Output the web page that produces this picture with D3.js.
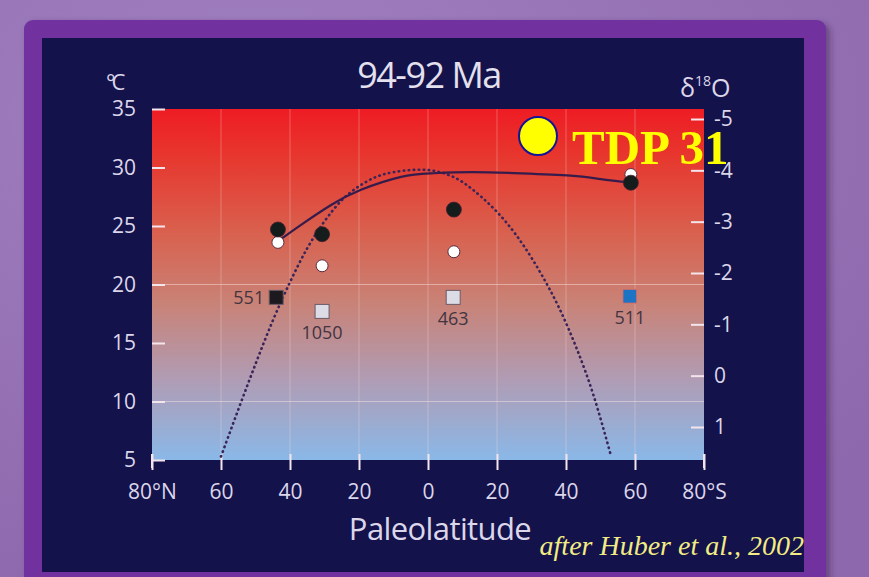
<!DOCTYPE html>
<html>
<head>
<meta charset="utf-8">
<script src="https://cdn.jsdelivr.net/npm/d3@7"></script>
<style>
  html, body { margin: 0; padding: 0; background: #9672b4; }
  svg { display: block; }
</style>
</head>
<body>
<svg id="chart" width="869" height="577"></svg>
<script>
// Paleolatitude: negative = north, positive = south
const latTicks = [-80, -60, -40, -20, 0, 20, 40, 60, 80];
const latTickLabels = ["80°N", "60", "40", "20", "0", "20", "40", "60", "80°S"];
const tempTicks = [5, 10, 15, 20, 25, 30, 35];
const d18OTicks = [-5, -4, -3, -2, -1, 0, 1];
const d18OTickLabels = ["-5", "-4", "-3", "-2", "-1", "0", "1"];

// Site paleolatitudes and temperatures
const siteLat = [-43.5, -30.7, 7.5, 58.8];
const tempBlack = [24.7, 24.3, 26.4, 28.7];
const tempWhite = [23.6, 21.6, 22.8, 29.4];

// DSDP/ODP sites (squares)
const siteNames = ["551", "1050", "463", "511"];
const squareLat = [-44, -30.7, 7.3, 58.5];
const squareTemp = [18.9, 17.7, 18.9, 19.0];
const squareFill = ["#1c1a1e", "#dcdce6", "#dcdce6", "#1d74c4"];

// Cretaceous gradient (solid curve)
const solidLat = [-43.5, -36.8, -28.1, -19.4, -7.8, 0.9, 12.5, 27, 41.4, 50.1, 58.8];
const solidTemp = [23.7, 25.1, 26.8, 28.1, 29.2, 29.5, 29.6, 29.5, 29.3, 29.0, 28.7];

// Modern gradient (dotted curve)
const dotLat = [-60, -55, -50, -45, -40, -35, -30, -25, -20, -15, -10, -4, 2, 8, 13, 18, 23, 28, 33, 38, 43, 48, 53];
const dotTemp = [5.3, 9.3, 13.2, 16.9, 20.2, 23.1, 25.4, 27.2, 28.4, 29.2, 29.6, 29.8, 29.7, 29.1, 28.1, 26.8, 25.2, 23.2, 20.8, 18.0, 14.6, 10.5, 5.4];

const svg = d3.select("#chart");
const W = 869, H = 577;

const defs = svg.append("defs");

// page background
const bg = defs.append("radialGradient").attr("id", "bg").attr("cx", "30%").attr("cy", "20%").attr("r", "90%");
bg.append("stop").attr("offset", "0%").attr("stop-color", "#a080c0");
bg.append("stop").attr("offset", "100%").attr("stop-color", "#8e68ac");

// plot fill: warm at the top, cool at the bottom
const grad = defs.append("linearGradient").attr("id", "heat").attr("x1", 0).attr("y1", 0).attr("x2", 0).attr("y2", 1);
[["0%", "#ee1c24"], ["12%", "#e8342c"], ["35%", "#d9604e"], ["55%", "#c98276"], ["77%", "#b09cb4"], ["100%", "#8ab8e8"]]
  .forEach(([o, c]) => grad.append("stop").attr("offset", o).attr("stop-color", c));

const shadow = defs.append("filter").attr("id", "shadow").attr("x", "-5%").attr("y", "-5%").attr("width", "115%").attr("height", "115%");
shadow.append("feDropShadow").attr("dx", 4).attr("dy", 3).attr("stdDeviation", 3).attr("flood-color", "#3a1a50").attr("flood-opacity", 0.5);

svg.append("rect").attr("width", W).attr("height", H).attr("fill", "url(#bg)");

// frame and panel
svg.append("rect").attr("x", 24).attr("y", 20).attr("width", 802).attr("height", 600)
  .attr("rx", 9).attr("fill", "#7131a0").attr("filter", "url(#shadow)");
svg.append("rect").attr("x", 42).attr("y", 38).attr("width", 762).attr("height", 534).attr("fill", "#13124a");

// scales
const x = d3.scaleLinear().domain([-80, 80]).range([152, 704]);
const y = d3.scaleLinear().domain([5, 35]).range([460, 109]);
const yR = d3.scaleLinear().domain([1, -5]).range([427, 119]);

// plot area
svg.append("rect").attr("x", x(-80)).attr("y", y(35)).attr("width", x(80) - x(-80)).attr("height", y(5) - y(35))
  .attr("fill", "url(#heat)");

// faint grid
const grid = svg.append("g").attr("stroke", "#ffe8e8").attr("stroke-width", 1.2);
grid.selectAll(".vg").data(latTicks.slice(1, -1)).join("line")
  .attr("x1", d => x(d)).attr("x2", d => x(d)).attr("y1", y(35)).attr("y2", y(5))
  .attr("stroke-opacity", 0.25);
grid.selectAll(".hg").data([10, 20]).join("line")
  .attr("x1", x(-80)).attr("x2", x(80)).attr("y1", d => y(d)).attr("y2", d => y(d))
  .attr("stroke-opacity", 0.45);

const tickColor = "#f4e4ec";
const labelColor = "#dcd6ea";
const sans = "'Open Sans', 'Noto Sans', sans-serif";

// bottom axis
const xAxis = svg.append("g").attr("transform", `translate(0,${y(5)})`)
  .call(d3.axisBottom(x).tickValues(latTicks).tickFormat((d, i) => latTickLabels[i]).tickSize(10).tickPadding(14));
xAxis.select(".domain").remove();
xAxis.selectAll(".tick line").attr("stroke", tickColor).attr("stroke-width", 2).attr("y1", -6);
xAxis.selectAll(".tick text").attr("fill", labelColor).style("font-family", sans).style("font-size", "21px");

// left axis, ticks drawn inside the plot
const yAxis = svg.append("g").attr("transform", `translate(${x(-80)},0)`)
  .call(d3.axisLeft(y).tickValues(tempTicks).tickSize(-13).tickPadding(16));
yAxis.select(".domain").remove();
yAxis.selectAll(".tick line").attr("stroke", tickColor).attr("stroke-width", 2);
yAxis.selectAll(".tick text").attr("fill", labelColor).style("font-family", sans).style("font-size", "21px");

// right axis (d18O), ticks inside the plot
const rAxis = svg.append("g").attr("transform", `translate(${x(80)},0)`)
  .call(d3.axisRight(yR).tickValues(d18OTicks).tickFormat((d, i) => d18OTickLabels[i]).tickSize(-13).tickPadding(10));
rAxis.select(".domain").remove();
rAxis.selectAll(".tick line").attr("stroke", tickColor).attr("stroke-width", 2);
rAxis.selectAll(".tick text").attr("fill", labelColor).style("font-family", sans).style("font-size", "21px");

// corner marks at the bottom
svg.append("line").attr("x1", x(-80)).attr("x2", x(-80)).attr("y1", y(5) - 6).attr("y2", y(5) + 8)
  .attr("stroke", tickColor).attr("stroke-width", 2);
svg.append("line").attr("x1", x(80)).attr("x2", x(80)).attr("y1", y(5) - 6).attr("y2", y(5) + 8)
  .attr("stroke", tickColor).attr("stroke-width", 2);

// titles and units
svg.append("text").attr("x", 429).attr("y", 88).attr("text-anchor", "middle")
  .attr("fill", "#e4e0ee").style("font-family", sans).style("font-size", "36px").style("letter-spacing", "-1.5px").text("94-92 Ma");
svg.append("text").attr("x", 106).attr("y", 90)
  .attr("fill", labelColor).style("font-family", sans).style("font-size", "22px").style("letter-spacing", "-4px").text("°C");
const dO = svg.append("text").attr("x", 680).attr("y", 97)
  .attr("fill", labelColor).style("font-family", sans).style("font-size", "25px");
dO.append("tspan").text("δ");
dO.append("tspan").attr("dy", -11).style("font-size", "14px").text("18");
dO.append("tspan").attr("dy", 11).text("O");
svg.append("text").attr("x", 440).attr("y", 540).attr("text-anchor", "middle")
  .attr("fill", labelColor).style("font-family", sans).style("font-size", "31px").style("letter-spacing", "-0.6px").text("Paleolatitude");

// curves
const line = d3.line().x(d => x(d[0])).y(d => y(d[1])).curve(d3.curveNatural);
svg.append("path").datum(dotLat.map((d, i) => [d, dotTemp[i]]))
  .attr("d", line).attr("fill", "none").attr("stroke", "#3a2458").attr("stroke-width", 2.6)
  .attr("stroke-dasharray", "0.5 4.5").attr("stroke-linecap", "round");
svg.append("path").datum(solidLat.map((d, i) => [d, solidTemp[i]]))
  .attr("d", line).attr("fill", "none").attr("stroke", "#361c4c").attr("stroke-width", 2.2);

// circles
svg.append("g").selectAll("circle").data(siteLat).join("circle")
  .attr("cx", d => x(d)).attr("cy", (d, i) => y(tempWhite[i])).attr("r", 6)
  .attr("fill", "#ffffff").attr("stroke", "#5a2c3c").attr("stroke-width", 1);
svg.append("g").selectAll("circle").data(siteLat).join("circle")
  .attr("cx", d => x(d)).attr("cy", (d, i) => y(tempBlack[i])).attr("r", 7.5)
  .attr("fill", "#141c1c").attr("stroke", "#402030").attr("stroke-width", 0.8);

// site squares and labels
const sq = 14;
svg.append("g").selectAll("rect").data(squareLat).join("rect")
  .attr("x", d => x(d) - sq / 2).attr("y", (d, i) => y(squareTemp[i]) - sq / 2)
  .attr("width", sq).attr("height", sq)
  .attr("fill", (d, i) => squareFill[i]).attr("stroke", (d, i) => i === 3 ? "#e87060" : "#6a5a66").attr("stroke-width", 1);
const siteLabel = svg.append("g").style("font-family", sans).style("font-size", "18px").attr("fill", "#433440");
siteLabel.append("text").attr("x", x(squareLat[0]) - 12).attr("y", y(squareTemp[0]) + 7)
  .attr("text-anchor", "end").text(siteNames[0]);
siteNames.slice(1).forEach((n, k) => {
  const i = k + 1;
  siteLabel.append("text").attr("x", x(squareLat[i])).attr("y", y(squareTemp[i]) + 28)
    .attr("text-anchor", "middle").text(n);
});

// site marker
svg.append("circle").attr("cx", 538).attr("cy", 136).attr("r", 19)
  .attr("fill", "#ffff00").attr("stroke", "#14149a").attr("stroke-width", 2);
svg.append("text").attr("x", 572).attr("y", 164)
  .attr("fill", "#ffff00").style("font-family", "'Liberation Serif', 'Times New Roman', serif")
  .style("font-weight", "bold").style("font-size", "49px").text("TDP 31");

svg.append("text").attr("x", 804).attr("y", 555).attr("text-anchor", "end")
  .attr("fill", "#f2ec84").style("font-family", "'Liberation Serif', 'Times New Roman', serif")
  .style("font-style", "italic").style("font-size", "28px").text("after Huber et al., 2002");
</script>
</body>
</html>
